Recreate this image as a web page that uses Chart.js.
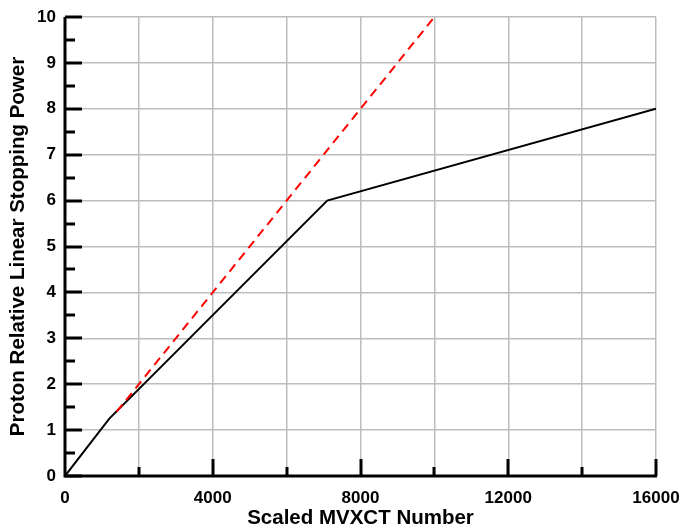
<!DOCTYPE html>
<html>
<head>
<meta charset="utf-8">
<script src="https://cdn.jsdelivr.net/npm/chart.js@4"></script>
<style>
  html, body { margin: 0; padding: 0; background: #fff; }
  #wrap { width: 681px; height: 529px; position: relative; }
</style>
</head>
<body>
<div id="wrap"><canvas id="chart"></canvas></div>
<script>
// calibration curve (black) and 1:1 reference (red dashed)
const mvxctNumber = [0, 1200, 7100, 16000];
const stoppingPower = [0, 1.25, 6.0, 8.0];
const refNumber = [1400, 10000];
const refPower = [1.4, 10];

const xLabels = [0, 4000, 8000, 12000, 16000];
const yLabels = [0, 1, 2, 3, 4, 5, 6, 7, 8, 9, 10];

const tickFont = { family: "'Liberation Sans', Arial, sans-serif", size: 17, weight: 'bold' };
const titleFont = { family: "'Liberation Sans', Arial, sans-serif", size: 20.5, weight: 'bold', lineHeight: 1 };

// inward ticks along the left and bottom axes
const innerTicks = {
    id: 'innerTicks',
    afterDraw(chart) {
        const { ctx, chartArea: a, scales: { x, y } } = chart;
        ctx.save();
        ctx.strokeStyle = '#000';
        ctx.lineWidth = 3;
        for (let v = 0; v <= 10; v += 0.5) {
            const py = Math.round(y.getPixelForValue(v));
            const len = Number.isInteger(v) ? 17 : 10;
            ctx.beginPath();
            ctx.moveTo(a.left, py);
            ctx.lineTo(a.left + len, py);
            ctx.stroke();
        }
        for (let v = 2000; v <= 16000; v += 2000) {
            const px = Math.round(x.getPixelForValue(v));
            const len = v % 4000 === 0 ? 17 : 9;
            ctx.beginPath();
            ctx.moveTo(px, a.bottom);
            ctx.lineTo(px, a.bottom - len);
            ctx.stroke();
        }
        // axis lines on top
        ctx.beginPath();
        ctx.moveTo(a.left, a.top);
        ctx.lineTo(a.left, a.bottom);
        ctx.lineTo(a.right + 1, a.bottom);
        ctx.stroke();
        ctx.restore();
    }
};

new Chart(document.getElementById('chart'), {
    type: 'scatter',
    data: {
        datasets: [{
            data: refNumber.map((v, i) => ({ x: v, y: refPower[i] })),
            showLine: true,
            borderColor: '#ff0000',
            borderWidth: 2,
            borderDash: [9, 6],
            pointRadius: 0
        }, {
            data: mvxctNumber.map((v, i) => ({ x: v, y: stoppingPower[i] })),
            showLine: true,
            borderColor: '#000',
            borderWidth: 2,
            pointRadius: 0
        }]
    },
    options: {
        responsive: true,
        maintainAspectRatio: false,
        animation: false,
        layout: { padding: { top: 17, right: 25, left: 0, bottom: 0 } },
        plugins: { legend: { display: false }, tooltip: { enabled: false } },
        scales: {
            x: {
                type: 'linear',
                min: 0, max: 16000,
                afterFit(s) { s.height = 53; s.paddingLeft = 0; s.paddingRight = 0; },
                afterBuildTicks(s) { s.ticks = [0, 2000, 4000, 6000, 8000, 10000, 12000, 14000, 16000].map(v => ({ value: v })); },
                grid: { color: '#bdbdbd', lineWidth: 1.5, drawTicks: false },
                border: { display: false },
                ticks: {
                    color: '#000', font: tickFont, padding: 12, maxRotation: 0, autoSkip: false,
                    callback: v => xLabels.includes(v) ? String(v) : ''
                },
                title: { display: true, text: 'Scaled MVXCT Number', color: '#000', font: titleFont, padding: 0 }
            },
            y: {
                type: 'linear',
                min: 0, max: 10,
                afterFit(s) { s.width = 65; s.paddingTop = 0; s.paddingBottom = 0; },
                afterBuildTicks(s) { s.ticks = yLabels.map(v => ({ value: v })); },
                grid: { color: '#bdbdbd', lineWidth: 1.5, drawTicks: false },
                border: { display: false },
                ticks: { color: '#000', font: tickFont, padding: 9, autoSkip: false },
                title: { display: true, text: 'Proton Relative Linear Stopping Power', color: '#000', font: titleFont, padding: { top: 8, bottom: 0 } }
            }
        }
    },
    plugins: [innerTicks]
});
</script>
</body>
</html>
